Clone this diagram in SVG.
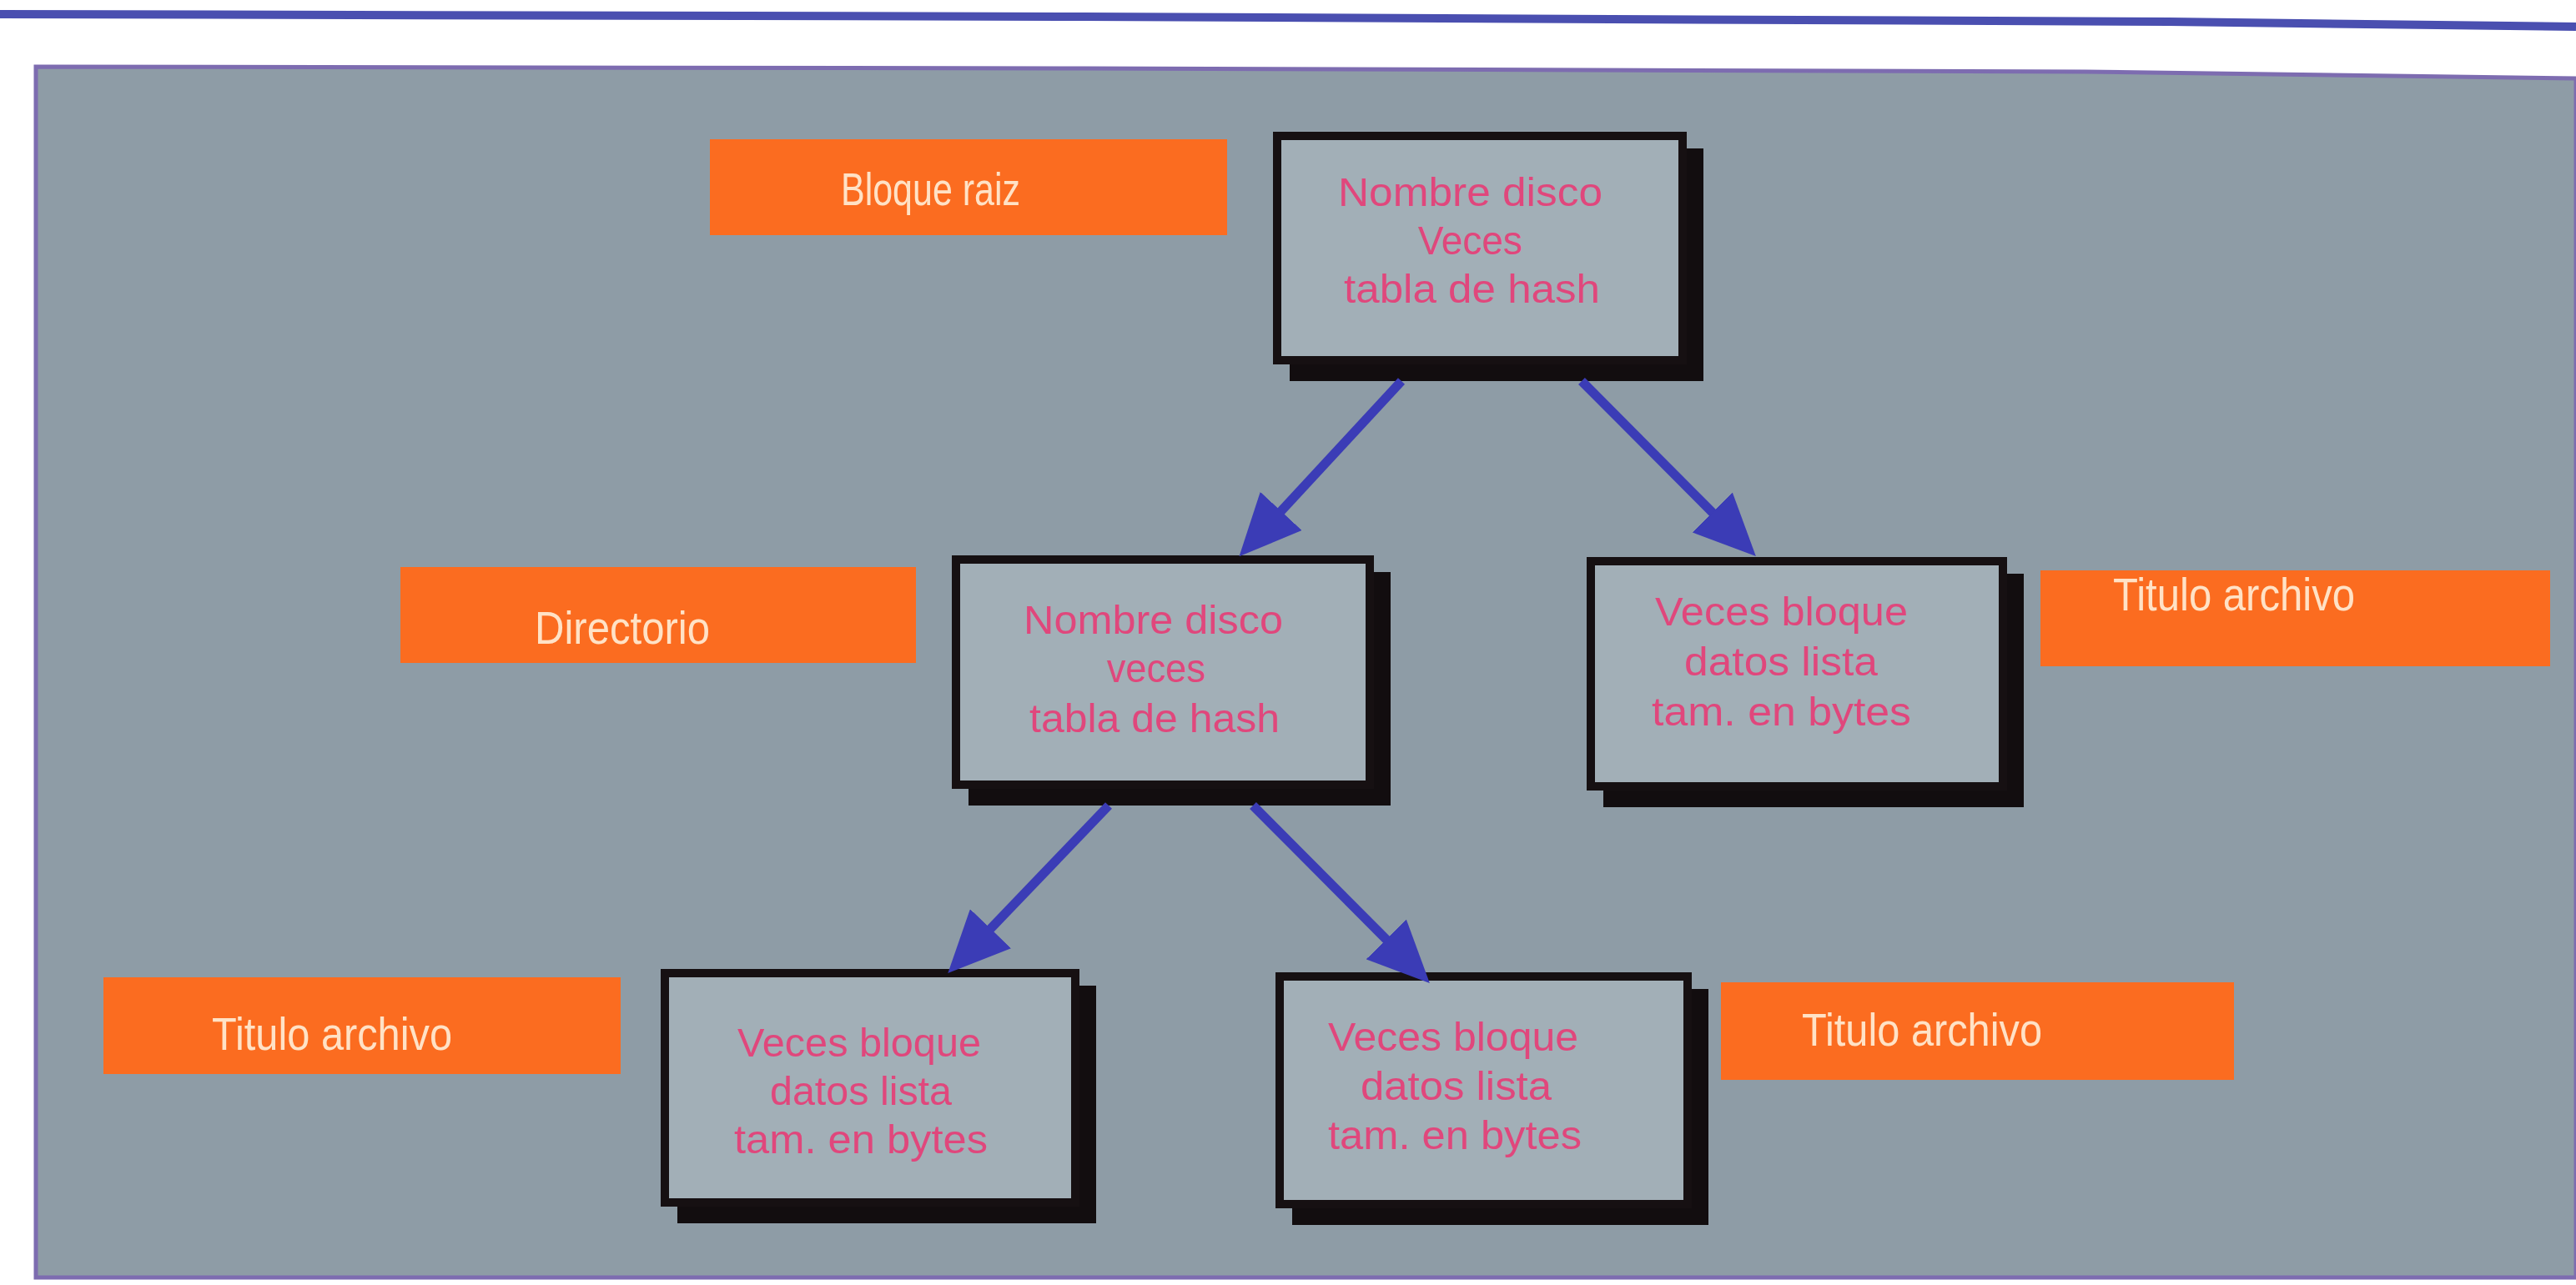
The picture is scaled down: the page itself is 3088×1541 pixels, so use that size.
<svg xmlns="http://www.w3.org/2000/svg" width="3088" height="1541" viewBox="0 0 3088 1541">
<style>
.frame{fill:#a2afb7;stroke:#161012;stroke-width:10}
.shadow{fill:#120d0f}
.boxtxt{font-family:"Liberation Sans",Arial,sans-serif;font-size:49px;fill:#e0477c}
.lbl{fill:#fb6c20}
.lbltxt{font-family:"Liberation Sans",Arial,sans-serif;font-size:56px;fill:#ffe2c6}
.arrow{stroke:#3b3cb6;stroke-width:11;fill:none;marker-end:url(#head)}
</style>
<defs>
<marker id="head" markerUnits="userSpaceOnUse" markerWidth="74" markerHeight="68" viewBox="0 0 74 68" refX="60" refY="34" orient="auto">
<path d="M0,0 L74,34 L0,68 z" fill="#3b3cb6"/>
</marker>
</defs>
<rect x="0" y="0" width="3088" height="1541" fill="#ffffff"/>
<path d="M0,17 L1300,20 L2600,26 L3088,32" stroke="#4a4fb0" stroke-width="10" fill="none"/>
<path d="M43,80 L1300,82 L2500,86 L3088,94 L3088,1532 L43,1532 Z" fill="#8e9ca6" stroke="#7d6cb0" stroke-width="5"/>

<g id="label-bloque-raiz">
<rect class="lbl" x="851" y="167" width="620" height="115"/>
<text class="lbltxt" x="1008" y="246" textLength="215" lengthAdjust="spacingAndGlyphs">Bloque raiz</text>
</g>
<g id="label-directorio">
<rect class="lbl" x="480" y="680" width="618" height="115"/>
<text class="lbltxt" x="641" y="772" textLength="210" lengthAdjust="spacingAndGlyphs">Directorio</text>
</g>
<g id="label-titulo-right">
<rect class="lbl" x="2446" y="684" width="611" height="115"/>
<text class="lbltxt" x="2533" y="732" textLength="290" lengthAdjust="spacingAndGlyphs">Titulo archivo</text>
</g>
<g id="label-titulo-bl">
<rect class="lbl" x="124" y="1172" width="620" height="116"/>
<text class="lbltxt" x="254" y="1259" textLength="288" lengthAdjust="spacingAndGlyphs">Titulo archivo</text>
</g>
<g id="label-titulo-br">
<rect class="lbl" x="2063" y="1178" width="615" height="117"/>
<text class="lbltxt" x="2160" y="1254" textLength="288" lengthAdjust="spacingAndGlyphs">Titulo archivo</text>
</g>

<g id="node-root">
<rect class="shadow" x="1546" y="178" width="496" height="279"/>
<rect class="frame" x="1531" y="163" width="486" height="269"/>
<text class="boxtxt" x="1604" y="247" textLength="317" lengthAdjust="spacingAndGlyphs">Nombre disco</text>
<text class="boxtxt" x="1700" y="305" textLength="125" lengthAdjust="spacingAndGlyphs">Veces</text>
<text class="boxtxt" x="1611" y="363" textLength="307" lengthAdjust="spacingAndGlyphs">tabla de hash</text>
</g>
<g id="node-directorio">
<rect class="shadow" x="1161" y="686" width="506" height="280"/>
<rect class="frame" x="1146" y="671" width="496" height="270"/>
<text class="boxtxt" x="1227" y="760" textLength="311" lengthAdjust="spacingAndGlyphs">Nombre disco</text>
<text class="boxtxt" x="1327" y="818" textLength="118" lengthAdjust="spacingAndGlyphs">veces</text>
<text class="boxtxt" x="1234" y="878" textLength="300" lengthAdjust="spacingAndGlyphs">tabla de hash</text>
</g>
<g id="node-archivo-right">
<rect class="shadow" x="1922" y="688" width="504" height="280"/>
<rect class="frame" x="1907" y="673" width="494" height="270"/>
<text class="boxtxt" x="1984" y="750" textLength="303" lengthAdjust="spacingAndGlyphs">Veces bloque</text>
<text class="boxtxt" x="2019" y="810" textLength="232" lengthAdjust="spacingAndGlyphs">datos lista</text>
<text class="boxtxt" x="1980" y="870" textLength="311" lengthAdjust="spacingAndGlyphs">tam. en bytes</text>
</g>
<g id="node-archivo-bl">
<rect class="shadow" x="812" y="1182" width="502" height="285"/>
<rect class="frame" x="797" y="1167" width="492" height="275"/>
<text class="boxtxt" x="884" y="1267" textLength="292" lengthAdjust="spacingAndGlyphs">Veces bloque</text>
<text class="boxtxt" x="923" y="1325" textLength="218" lengthAdjust="spacingAndGlyphs">datos lista</text>
<text class="boxtxt" x="880" y="1383" textLength="304" lengthAdjust="spacingAndGlyphs">tam. en bytes</text>
</g>
<g id="node-archivo-br">
<rect class="shadow" x="1549" y="1186" width="499" height="283"/>
<rect class="frame" x="1534" y="1171" width="489" height="273"/>
<text class="boxtxt" x="1592" y="1260" textLength="300" lengthAdjust="spacingAndGlyphs">Veces bloque</text>
<text class="boxtxt" x="1631" y="1319" textLength="229" lengthAdjust="spacingAndGlyphs">datos lista</text>
<text class="boxtxt" x="1592" y="1378" textLength="304" lengthAdjust="spacingAndGlyphs">tam. en bytes</text>
</g>

<g id="connectors">
<line class="arrow" x1="1680" y1="457" x2="1495" y2="657"/>
<line class="arrow" x1="1896" y1="457" x2="2095" y2="657"/>
<line class="arrow" x1="1329" y1="966" x2="1146" y2="1157"/>
<line class="arrow" x1="1502" y1="966" x2="1704" y2="1169"/>
</g>
</svg>
